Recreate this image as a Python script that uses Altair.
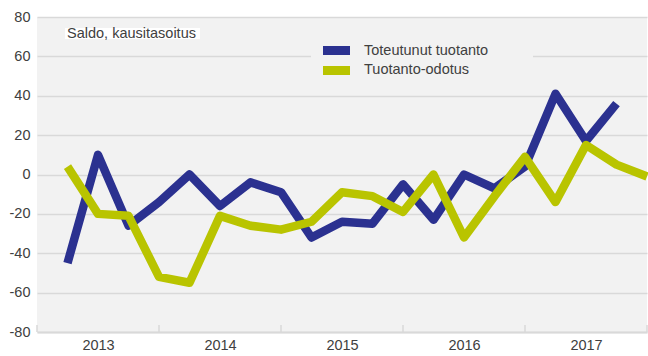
import altair as alt
import pandas as pd

# Quarterly balance figures, seasonally adjusted (2013 Q1 .. 2017 Q4)
quarter = list(range(1, 21))
toteutunut = [-45, 10, -26, -14, 0, -16, -4, -9, -32, -24,
              -25, -5, -23, 0, -7, 4, 41, 17, 36]
odotus = [4, -20, -21, -52, -55, -21, -26, -28, -24, -9,
          -11, -19, 0, -32, -11, 9, -14, 15, 5, -1]
series_names = ["Toteutunut tuotanto", "Tuotanto-odotus"]
series_colors = ["#2b3190", "#b9c400"]
years = [2013, 2014, 2015, 2016, 2017]
y_ticks = [-80, -60, -40, -20, 0, 20, 40, 60, 80]
panel_label = "Saldo, kausitasoitus"

FONT = "Liberation Sans"
TEXT = "#404040"
GRID = "#d9d9d9"
W, H = 610, 315

df_blue = pd.DataFrame({"q": quarter[:len(toteutunut)], "v": toteutunut,
                        "s": series_names[0]})
df_green = pd.DataFrame({"q": quarter[:len(odotus)], "v": odotus,
                         "s": series_names[1]})
# year boundaries (in quarters) for the small inward ticks on the x axis
df_bounds = pd.DataFrame({"q": [4 * i for i in range(len(years) + 1)],
                          "v": [-80] * (len(years) + 1)})

x_scale = alt.Scale(domain=[0, 4 * len(years)], nice=False, zero=False)
y_scale = alt.Scale(domain=[-80, 80], nice=False)

label_expr = "'' + (%d + (datum.value - 2) / 4)" % years[0]

x_axis = alt.Axis(values=[4 * i + 2 for i in range(len(years))],
                  labelExpr=label_expr, ticks=False, grid=False,
                  domain=True, domainColor=GRID, domainWidth=2,
                  labelFont=FONT, labelFontSize=14.5,
                  labelColor=TEXT, labelPadding=6, labelOverlap=False)
y_axis = alt.Axis(values=y_ticks, grid=True, gridColor=GRID,
                  gridWidth=1.3, domain=False, ticks=False,
                  labelExpr="'' + datum.value", labelOverlap=False,
                  labelFont=FONT, labelFontSize=14.5,
                  labelColor=TEXT, labelPadding=7)

x_enc = alt.X("q:Q", scale=x_scale, title=None, axis=x_axis)
y_enc = alt.Y("v:Q", scale=y_scale, title=None, axis=y_axis)

year_ticks = alt.Chart(df_bounds).mark_rule(color=GRID, strokeWidth=1.5).encode(
    x=x_enc, y=y_enc, y2=alt.value(H - 7),
)

one = pd.DataFrame({"a": [0]})

legend_bg = alt.Chart(one).mark_rect(color="#f2f2f2").encode(
    x=alt.value(274), x2=alt.value(496), y=alt.value(21), y2=alt.value(65))

line_blue = alt.Chart(df_blue).mark_line(
    color=series_colors[0], strokeWidth=8.5, strokeJoin="round", strokeCap="butt"
).encode(x=x_enc, y=y_enc)

line_green = alt.Chart(df_green).mark_line(
    color=series_colors[1], strokeWidth=8.5, strokeJoin="round", strokeCap="butt"
).encode(x=x_enc, y=y_enc)

label_box = alt.Chart(one).mark_rect(color="white").encode(
    x=alt.value(28), x2=alt.value(163), y=alt.value(11), y2=alt.value(22))
label_text = alt.Chart(one).mark_text(
    text=panel_label, font=FONT, fontSize=14.5, color=TEXT,
    align="left", baseline="alphabetic"
).encode(x=alt.value(30), y=alt.value(20.5))

leg_df = pd.DataFrame({"s": series_names, "c": series_colors,
                       "row": [0, 1]})
leg_sym = alt.Chart(leg_df).mark_rect().encode(
    x=alt.value(286), x2=alt.value(313),
    y=alt.Y("row:Q", scale=alt.Scale(domain=[0, 1], range=[29, 49]), axis=None),
    y2=alt.Y2("row2:Q"),
    color=alt.Color("c:N", scale=None),
).transform_calculate(row2="datum.row + 0.45")
leg_txt = alt.Chart(leg_df).mark_text(
    font=FONT, fontSize=14.5, color=TEXT, align="left", baseline="middle"
).encode(
    x=alt.value(327),
    y=alt.Y("row:Q", scale=alt.Scale(domain=[0, 1], range=[33.5, 53]), axis=None),
    text="s:N",
)

legend_layer = alt.layer(leg_sym, leg_txt).resolve_scale(y="independent")

chart = alt.layer(
    year_ticks, legend_bg, line_blue, line_green, label_box, label_text,
).properties(width=W, height=H)

chart = alt.layer(chart, legend_layer).resolve_scale(y="independent").properties(
    padding={"left": 37, "top": 17, "right": 1, "bottom": 24},
    autosize=alt.AutoSizeParams(type="none"),
    background="white",
).configure_view(fill="#f2f2f2", stroke=None)

chart.save("out.html", embed_options={"renderer": "svg", "actions": False})
